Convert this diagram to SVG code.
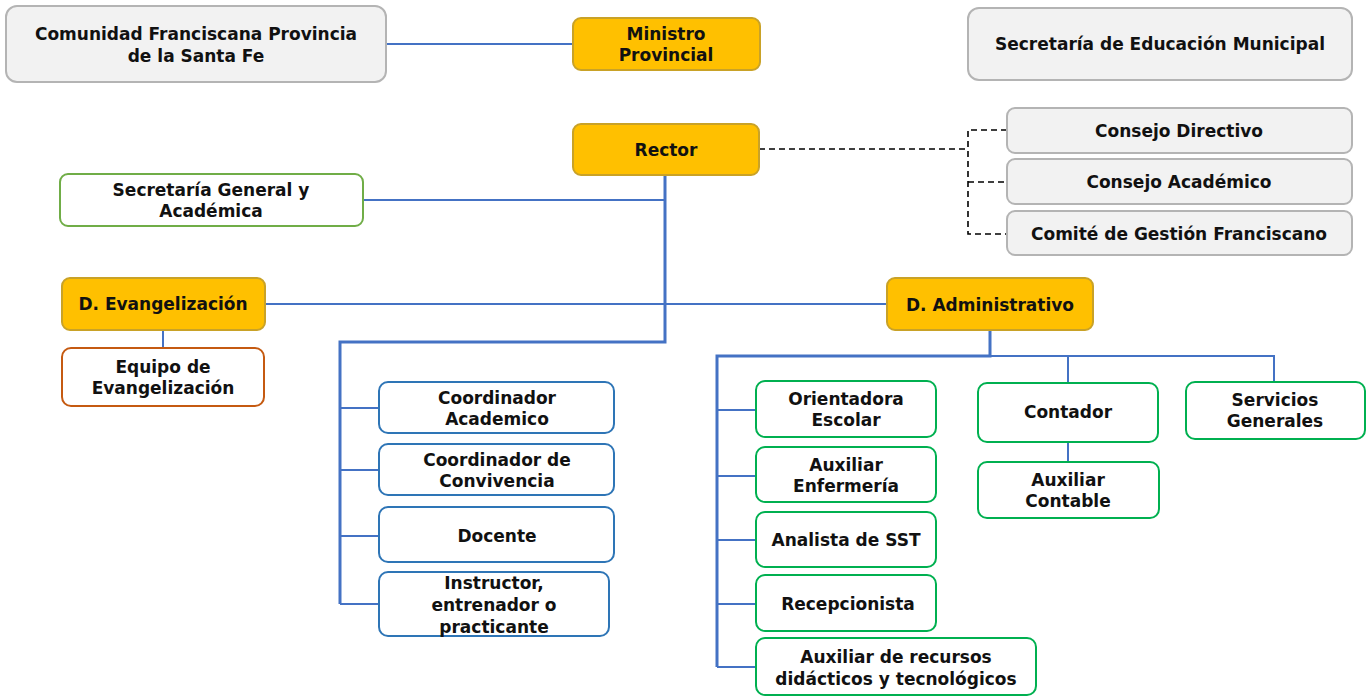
<svg xmlns="http://www.w3.org/2000/svg" width="1370" height="696" viewBox="0 0 1370 696">
<style>
text{font-family:"DejaVu Sans","Liberation Sans",sans-serif;font-weight:bold;font-size:17px;fill:#111;text-anchor:middle}
.gray{fill:#f2f2f2;stroke:#b4b4b4;stroke-width:2}
.gold{fill:#ffc000;stroke:#c9a227;stroke-width:2}
.lg{fill:#fff;stroke:#70ad47;stroke-width:2}
.or{fill:#fff;stroke:#c55a11;stroke-width:2}
.bl{fill:#fff;stroke:#2e75b6;stroke-width:2}
.gr{fill:#fff;stroke:#00b050;stroke-width:2}
.c{fill:none;stroke:#4472c4;stroke-width:2}
.t{fill:none;stroke:#4472c4;stroke-width:3}
.d{fill:none;stroke:#000;stroke-width:1.6;stroke-dasharray:6 4}
</style>
<g id="connectors">
<path class="c" d="M386 44H573"/>
<path class="c" d="M363 200H665"/>
<path class="c" d="M265 304H887"/>
<path class="c" d="M163 330V348"/>
<path class="t" d="M665 175V342H340V604"/>
<path class="c" d="M340 408H379M340 470H379M340 536H379M340 604H379"/>
<path class="t" d="M990 330V356H717V667"/>
<path class="c" d="M990 356H1274V382M1068 356V383M1068 442V462"/>
<path class="c" d="M717 410H756M717 476H756M717 540H756M717 604H756M717 667H756"/>
<path class="d" d="M759 149H968M1007 130H968V234H1007M968 182H1007"/>
</g>
<g id="comunidad"><rect class="gray" x="6" y="6" width="380" height="76" rx="11"/><text x="196" y="40">Comunidad Franciscana Provincia</text><text x="196" y="62">de la Santa Fe</text></g>
<g id="ministro"><rect class="gold" x="573" y="18" width="187" height="52" rx="8"/><text x="666" y="40">Ministro</text><text x="666" y="61">Provincial</text></g>
<g id="sem"><rect class="gray" x="968" y="8" width="384" height="72" rx="11"/><text x="1160" y="50">Secretaría de Educación Municipal</text></g>
<g id="rector"><rect class="gold" x="573" y="124" width="186" height="51" rx="8"/><text x="666" y="156">Rector</text></g>
<g id="consejo-directivo"><rect class="gray" x="1007" y="108" width="345" height="45" rx="8"/><text x="1179" y="137">Consejo Directivo</text></g>
<g id="consejo-academico"><rect class="gray" x="1007" y="159" width="345" height="45" rx="8"/><text x="1179" y="188">Consejo Académico</text></g>
<g id="comite"><rect class="gray" x="1007" y="211" width="345" height="44" rx="8"/><text x="1179" y="240">Comité de Gestión Franciscano</text></g>
<g id="secretaria-general"><rect class="lg" x="60" y="174" width="303" height="52" rx="8"/><text x="211" y="196">Secretaría General y</text><text x="211" y="217">Académica</text></g>
<g id="d-evangelizacion"><rect class="gold" x="62" y="278" width="203" height="52" rx="8"/><text x="163" y="310">D. Evangelización</text></g>
<g id="equipo"><rect class="or" x="62" y="348" width="202" height="58" rx="9"/><text x="163" y="373">Equipo de</text><text x="163" y="394">Evangelización</text></g>
<g id="d-administrativo"><rect class="gold" x="887" y="278" width="206" height="52" rx="8"/><text x="990" y="311">D. Administrativo</text></g>
<g id="coord-academico"><rect class="bl" x="379" y="382" width="235" height="51" rx="9"/><text x="497" y="404">Coordinador</text><text x="497" y="425">Academico</text></g>
<g id="coord-convivencia"><rect class="bl" x="379" y="444" width="235" height="51" rx="9"/><text x="497" y="466">Coordinador de</text><text x="497" y="487">Convivencia</text></g>
<g id="docente"><rect class="bl" x="379" y="507" width="235" height="55" rx="9"/><text x="497" y="542">Docente</text></g>
<g id="instructor"><rect class="bl" x="379" y="572" width="230" height="64" rx="9"/><text x="494" y="589">Instructor,</text><text x="494" y="611">entrenador o</text><text x="494" y="633">practicante</text></g>
<g id="orientadora"><rect class="gr" x="756" y="381" width="180" height="56" rx="9"/><text x="846" y="405">Orientadora</text><text x="846" y="426">Escolar</text></g>
<g id="aux-enfermeria"><rect class="gr" x="756" y="447" width="180" height="55" rx="9"/><text x="846" y="471">Auxiliar</text><text x="846" y="492">Enfermería</text></g>
<g id="analista"><rect class="gr" x="756" y="512" width="180" height="55" rx="9"/><text x="846" y="546">Analista de SST</text></g>
<g id="recepcionista"><rect class="gr" x="756" y="575" width="180" height="56" rx="9"/><text x="848" y="610">Recepcionista</text></g>
<g id="aux-recursos"><rect class="gr" x="756" y="638" width="280" height="57" rx="9"/><text x="896" y="663">Auxiliar de recursos</text><text x="896" y="685">didácticos y tecnológicos</text></g>
<g id="contador"><rect class="gr" x="978" y="383" width="180" height="59" rx="9"/><text x="1068" y="418">Contador</text></g>
<g id="aux-contable"><rect class="gr" x="978" y="462" width="181" height="56" rx="9"/><text x="1068" y="486">Auxiliar</text><text x="1068" y="507">Contable</text></g>
<g id="servicios"><rect class="gr" x="1186" y="382" width="179" height="57" rx="9"/><text x="1275" y="406">Servicios</text><text x="1275" y="427">Generales</text></g>
</svg>
